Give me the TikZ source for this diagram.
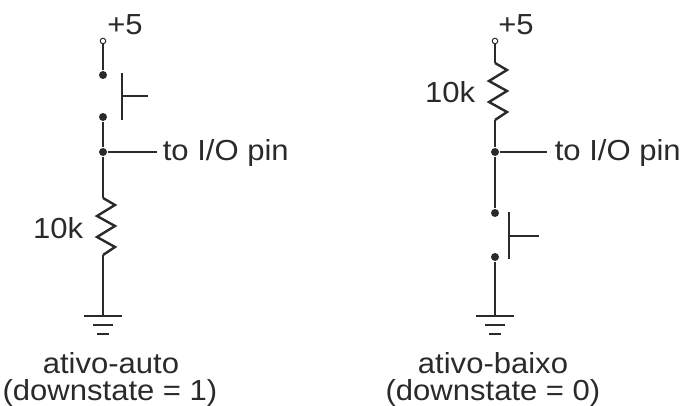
\documentclass[tikz,border=0pt]{standalone}
\usepackage{fontspec}
\setmainfont{Liberation Sans}
\definecolor{wire}{HTML}{2A2A2A}

\begin{document}
\begin{tikzpicture}[x=1pt, y=-1pt, line width=1.6pt, color=wire,
        lbl/.style={font=\fontsize{29}{32}\selectfont, xscale=1.07, inner sep=0pt},
        pad/.style={circle, draw, fill=white, line width=1pt, minimum size=5.5pt, inner sep=0pt},
        dot/.style={circle, fill, minimum size=8pt, inner sep=0pt},
        res/.style={line width=2.4pt},
        bar/.style={line width=1.3pt},
        gnd/.style={line width=2.2pt}]
        \useasboundingbox (0,0) rectangle (680,406);

        % ativo-auto
        \node[pad] (lpad) at (103,41) {};
        \node[lbl, anchor=base] (lvcc) at (125,35) {+5};
        \node[dot] (lsw1) at (103,75) {};
        \node[dot] (lsw2) at (103,117) {};
        \coordinate (lbar1) at (122,73);
        \coordinate (lbar2) at (122,120);
        \coordinate (lpush) at (148,96);
        \node[dot] (ljn) at (103,152) {};
        \coordinate (lpin) at (157,152);
        \node[lbl, anchor=base west] (lio) at (162,161) {to I/O pin};
        \coordinate (lrtop) at (103,198);
        \coordinate (lrbot) at (103,255);
        \node[lbl, anchor=base east] (lres) at (84,238) {10k};
        \coordinate (lgnd) at (103,316);
        \node[lbl, anchor=base] (lname) at (111,373) {ativo-auto};
        \node[lbl, anchor=base] (lstate) at (110,400) {(downstate = 1)};

        \draw (lpad) -- (lsw1);
        \draw[bar] (lbar1) -- (lbar2);
        \draw (lbar1 |- lpush) -- (lpush);
        \draw (lsw2) -- (ljn) -- (lrtop);
        \draw (ljn) -- (lpin);
        \draw[res] (lrtop) -- ++(12,7) -- ++(-18,11) -- ++(18,10) -- ++(-18,11) -- ++(18,10) -- (lrbot);
        \draw (lrbot) -- (lgnd);
        \draw[gnd] (lgnd) +(-19,0) -- +(19,0);
        \draw[gnd] (lgnd) +(-10,9) -- +(10,9);
        \draw[gnd] (lgnd) +(-6,18) -- +(6,18);

        % ativo-baixo
        \node[pad] (rpad) at (495,41) {};
        \node[lbl, anchor=base] (rvcc) at (516,35) {+5};
        \coordinate (rrtop) at (495,63);
        \coordinate (rrbot) at (495,120);
        \node[lbl, anchor=base east] (rres) at (476,103) {10k};
        \node[dot] (rjn) at (495,152) {};
        \coordinate (rpin) at (547,152);
        \node[lbl, anchor=base west] (rio) at (554,161) {to I/O pin};
        \node[dot] (rsw1) at (495,213) {};
        \node[dot] (rsw2) at (495,257) {};
        \coordinate (rbar1) at (509,212);
        \coordinate (rbar2) at (509,259);
        \coordinate (rpush) at (539,236);
        \coordinate (rgnd) at (495,316);
        \node[lbl, anchor=base] (rname) at (493,373) {ativo-baixo};
        \node[lbl, anchor=base] (rstate) at (493,400) {(downstate = 0)};

        \draw (rpad) -- (rrtop);
        \draw[res] (rrtop) -- ++(12,7) -- ++(-18,11) -- ++(18,10) -- ++(-18,11) -- ++(18,10) -- (rrbot);
        \draw (rrbot) -- (rjn) -- (rsw1);
        \draw (rjn) -- (rpin);
        \draw[bar] (rbar1) -- (rbar2);
        \draw (rbar1 |- rpush) -- (rpush);
        \draw (rsw2) -- (rgnd);
        \draw[gnd] (rgnd) +(-19,0) -- +(19,0);
        \draw[gnd] (rgnd) +(-10,9) -- +(10,9);
        \draw[gnd] (rgnd) +(-6,18) -- +(6,18);
    \end{tikzpicture}
\end{document}
